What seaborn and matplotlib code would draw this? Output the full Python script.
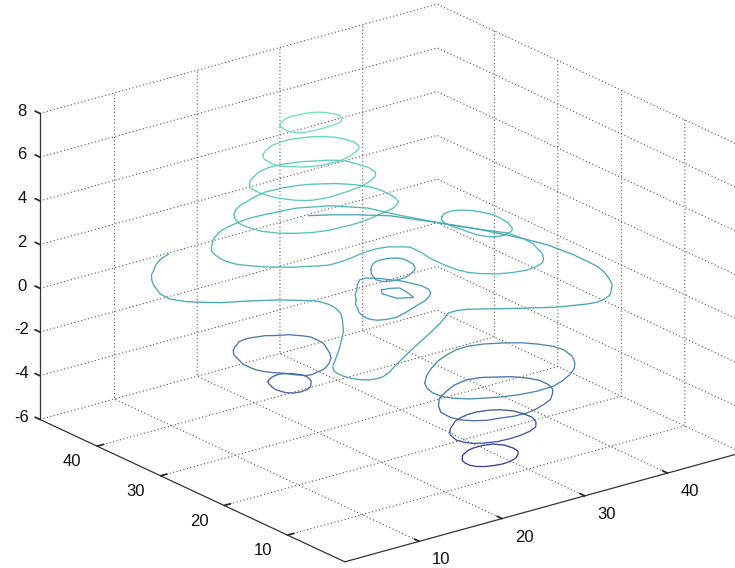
import matplotlib
matplotlib.use("Agg")
import matplotlib.pyplot as plt
import seaborn as sns
from mpl_toolkits.mplot3d import proj3d

# spirals above the centre, top to bottom
ring_a_x = [24.5, 25.2, 25.9, 26.9, 27.8, 28.7, 29.4, 30.0, 30.4, 30.6, 30.3, 29.8, 29.3, 28.4, 27.3, 26.2, 25.1, 24.5, 24.2, 24.1, 24.3]
ring_a_y = [41.9, 42.4, 42.8, 43.0, 42.9, 42.7, 42.4, 41.8, 41.1, 40.4, 39.7, 39.1, 38.8, 38.7, 38.6, 38.7, 38.8, 39.2, 39.8, 40.6, 41.5]
ring_b_x = [21.2, 21.9, 22.7, 23.6, 24.6, 25.7, 26.7, 27.8, 28.8, 29.5, 29.9, 30.2, 30.0, 29.5,
            28.7, 27.7, 26.7, 25.8, 25.0, 24.1, 23.2, 22.3, 21.6, 21.0, 20.6, 20.4, 20.5, 20.7]
ring_b_y = [40.2, 40.8, 41.3, 41.7, 41.9, 41.9, 41.6, 41.2, 40.5, 39.8, 38.9, 37.7, 36.6, 35.9,
            35.4, 34.9, 34.6, 34.4, 34.5, 34.5, 34.8, 35.2, 35.9, 36.4, 37.0, 37.8, 38.7, 39.5]
ring_c_x = [18.1, 18.9, 19.8, 20.7, 21.6, 22.5, 23.4, 24.1, 24.8, 25.9, 26.9, 27.9, 28.8, 29.4, 29.7, 30.0, 29.8,
            29.2, 28.3, 27.3, 26.3, 24.7, 23.2, 22.2, 21.2, 20.4, 19.7, 19.0, 18.4, 18.0, 17.8, 17.6, 17.6, 17.7]
ring_c_y = [38.3, 39.2, 39.8, 40.4, 40.7, 40.9, 40.8, 40.8, 40.5, 40.2, 39.6, 39.1, 38.4, 37.6, 36.5, 35.1, 33.7,
            32.9, 32.3, 31.8, 31.5, 31.2, 31.1, 31.0, 31.2, 31.4, 31.8, 32.5, 33.4, 34.1, 34.9, 35.9, 37.0, 37.7]
ring_d_x = [14.9, 15.7, 16.6, 17.3, 18.0, 19.1, 20.3, 21.1, 22.0, 23.3, 24.5, 25.7, 26.8, 27.7, 28.5, 29.2, 29.8, 30.1, 30.1, 30.0, 29.6,
            28.9, 28.1, 27.1, 26.1, 24.5, 22.9, 21.9, 20.9, 20.0, 19.1, 18.1, 17.2, 16.5, 15.9, 15.3, 14.8, 14.3, 14.1, 13.9, 13.9, 14.3]
ring_d_y = [36.6, 37.4, 38.0, 38.4, 38.6, 39.1, 39.4, 39.6, 39.5, 39.4, 39.1, 38.6, 37.9, 37.3, 36.5, 35.6, 34.6, 33.5, 32.2, 31.0, 29.8,
            29.2, 28.7, 28.4, 28.2, 27.8, 27.6, 27.6, 27.7, 27.7, 27.9, 28.2, 28.7, 29.1, 29.6, 30.1, 30.8, 31.5, 32.4, 33.4, 34.5, 35.6]
ring_e_x = [36.3, 35.0, 32.8, 30.9, 29.7, 27.3, 24.3, 20.7, 19.0, 17.3, 16.0, 14.7, 13.0, 11.6, 10.9, 10.5, 10.3,
            10.3, 10.6, 11.2, 12.3, 13.5, 14.5, 15.6, 16.6, 17.6, 18.9, 20.3, 22.0, 23.8, 25.0, 25.9, 26.6, 26.6,
            26.3, 26.3, 26.5, 26.9, 27.6, 28.9, 30.3, 31.7, 33.1, 34.2, 35.0, 35.7, 36.1, 36.5, 36.6, 36.5, 36.3]
ring_e_y = [21.4, 23.5, 27.4, 31.7, 34.9, 37.5, 39.0, 39.5, 39.6, 39.3, 39.0, 38.5, 37.3, 35.8, 34.9, 33.8, 32.7,
            31.7, 30.6, 29.7, 28.4, 27.4, 26.6, 26.0, 25.4, 25.0, 25.0, 25.2, 25.6, 25.7, 25.4, 24.7, 24.1, 22.4,
            20.6, 18.4, 16.6, 15.3, 14.4, 13.3, 12.7, 12.4, 12.6, 13.1, 14.0, 15.2, 16.5, 17.6, 18.7, 20.0, 21.4]
ring_p_x = [34.0, 34.5, 35.1, 35.8, 36.5, 37.3, 37.8, 38.2, 38.2, 38.0, 37.5, 37.0, 36.4, 35.5, 34.6, 34.1, 33.7, 33.5, 33.4, 33.2, 33.1, 33.4]
ring_p_y = [28.7, 29.1, 29.3, 29.3, 29.0, 28.2, 27.2, 26.1, 25.0, 23.5, 22.2, 21.6, 21.3, 21.1, 21.4, 22.0, 22.8, 23.9, 25.0, 26.0, 27.0, 28.0]

# long streamline crossing the whole box
long_x = [12.8, 12.0, 11.2, 10.1, 9.1, 8.1, 7.3, 6.6, 6.1, 5.7, 5.6, 5.6, 5.9, 6.4, 7.1, 8.8, 11.4, 13.8, 15.5, 16.2, 16.6, 16.8, 16.7, 16.2,
          15.3, 13.5, 10.5, 7.0, 6.4, 6.2, 6.2, 6.4, 6.9, 7.6, 8.4, 9.2, 10.4, 11.7, 15.3, 19.8, 22.2, 24.5, 25.5, 26.5, 30.4, 33.7, 36.5,
          37.6, 38.5, 39.6, 40.4, 41.6, 42.4, 43.0, 43.4, 43.5, 43.1, 42.2, 40.5, 38.5, 35.9, 33.5, 31.5, 29.7]
long_y = [44.1, 43.8, 43.4, 42.6, 41.6, 40.7, 39.6, 38.4, 37.2, 36.2, 35.3, 34.5, 33.9, 33.0, 32.3, 30.8, 29.4, 27.9, 26.4, 25.8, 25.0, 24.0, 22.9, 21.4,
          20.0, 17.5, 14.2, 10.7, 9.8, 9.1, 8.1, 7.2, 6.3, 5.7, 5.5, 5.6, 6.2, 7.1, 9.4, 12.1, 13.6, 15.3, 15.3, 15.0, 12.3, 10.2, 9.1,
          8.9, 9.1, 9.6, 10.4, 11.8, 13.4, 14.9, 16.5, 20.4, 24.0, 27.0, 31.1, 34.9, 39.3, 41.5, 43.0, 44.1]

# centre rings
ring_f_x = [27.8, 28.3, 28.9, 29.4, 29.9, 30.9, 31.7, 32.0, 32.0, 31.9, 31.5, 31.0, 30.3, 29.6, 28.9, 27.7, 26.8, 26.5, 26.8, 27.2]
ring_f_y = [31.8, 32.4, 32.9, 33.2, 33.3, 33.2, 32.7, 32.1, 31.4, 30.5, 29.7, 29.1, 28.7, 28.3, 28.1, 28.1, 28.5, 29.3, 30.1, 31.0]
ring_g_x = [21.8, 22.5, 23.4, 24.4, 25.3, 26.0, 26.4, 27.1, 27.6, 28.2, 28.6, 29.0, 29.0, 28.5, 27.7, 26.8, 25.7, 23.8, 22.0, 20.9, 20.0, 19.6, 19.6, 19.9, 20.5, 21.0]
ring_g_y = [26.3, 27.4, 28.3, 29.5, 30.3, 30.3, 30.0, 29.3, 28.5, 27.7, 26.7, 25.5, 24.3, 23.3, 22.6, 22.0, 21.6, 20.8, 20.2, 20.3, 20.7, 21.4, 22.3, 23.4, 24.4, 25.4]
ring_h_x = [25.3, 26.2, 27.0, 26.8, 26.5, 25.1, 24.7]
ring_h_y = [26.9, 26.7, 26.2, 24.6, 23.4, 24.2, 26.0]

# lower left spiral
ring_i_x = [12.7, 13.3, 13.9, 14.5, 15.2, 16.0, 16.7, 17.5, 18.2, 19.5, 20.4, 20.8, 20.8, 20.7, 20.2, 19.6,
            18.9, 17.8, 16.8, 16.1, 15.5, 14.8, 14.2, 13.4, 12.8, 12.1, 11.6, 11.3, 11.2, 11.2, 11.6, 12.0]
ring_i_y = [33.8, 34.4, 34.8, 35.3, 35.5, 35.5, 35.3, 35.1, 34.6, 33.9, 32.8, 32.1, 31.2, 30.0, 28.9, 27.6,
            26.5, 25.4, 24.7, 24.4, 24.3, 24.1, 24.2, 25.1, 26.1, 26.8, 27.6, 28.3, 29.2, 30.3, 31.5, 32.8]
ring_j_x = [13.8, 14.3, 14.8, 15.4, 16.0, 16.9, 17.4, 17.6, 17.5, 17.2, 16.7, 16.2, 15.6, 14.7, 13.9, 13.4, 13.2, 13.1, 13.3, 13.5]
ring_j_y = [29.8, 30.2, 30.5, 30.7, 30.7, 30.2, 29.4, 28.8, 28.2, 27.4, 26.8, 26.2, 25.9, 25.7, 25.9, 26.4, 27.1, 27.8, 28.5, 29.2]

# lower right spiral
ring_k_x = [18.4, 19.8, 21.4, 23.0, 24.7, 26.2, 27.6, 29.3, 30.9, 32.3, 33.3, 34.1, 34.4, 34.0,
            33.1, 32.1, 30.8, 29.2, 27.6, 25.6, 23.7, 22.1, 20.7, 19.2, 18.1, 17.5, 17.4, 17.7]
ring_k_y = [11.1, 12.6, 13.9, 15.0, 15.8, 16.3, 16.4, 15.9, 15.0, 14.0, 12.8, 11.5, 10.1, 8.2,
            6.6, 5.4, 4.4, 3.5, 2.9, 2.8, 3.1, 3.6, 4.3, 5.1, 6.2, 7.2, 8.5, 9.8]
ring_l_x = [21.0, 22.3, 24.0, 25.7, 27.5, 29.0, 30.2, 31.4, 32.3, 32.9, 32.9, 32.5, 31.7, 30.6, 29.2, 27.9, 26.6, 25.1, 23.8, 22.4, 21.3, 20.4, 20.1, 20.2]
ring_l_y = [12.3, 13.9, 15.0, 15.9, 16.3, 15.9, 15.1, 14.3, 13.2, 11.9, 10.5, 9.3, 8.3, 7.2, 6.5, 6.0, 5.7, 5.8, 6.2, 6.5, 7.2, 8.2, 9.3, 10.9]
ring_m_x = [21.2, 21.9, 22.7, 23.4, 24.3, 25.4, 26.5, 27.7, 28.7, 29.5, 29.8, 29.9, 29.4, 28.6, 27.4, 26.1, 24.7, 23.3, 22.0, 21.1, 20.6, 20.4, 20.6, 20.8]
ring_m_y = [10.8, 11.6, 12.2, 12.8, 13.2, 13.5, 13.5, 13.2, 12.6, 11.6, 10.4, 9.1, 7.9, 6.9, 6.3, 6.0, 5.9, 6.0, 6.5, 7.1, 7.9, 8.7, 9.5, 10.2]
ring_n_x = [21.5, 21.9, 22.5, 23.2, 24.0, 25.1, 26.1, 26.8, 27.0, 26.9, 26.4, 25.6, 24.6, 23.6, 22.6, 21.8, 21.2, 20.9, 20.9, 21.1]
ring_n_y = [9.2, 9.7, 10.1, 10.5, 10.7, 10.7, 10.4, 9.5, 8.4, 7.5, 6.8, 6.1, 5.7, 5.6, 5.8, 6.1, 6.6, 7.2, 8.0, 8.7]

closed_curves = [
    (ring_a_x, ring_a_y, 6.0),
    (ring_b_x, ring_b_y, 5.2),
    (ring_c_x, ring_c_y, 4.4),
    (ring_d_x, ring_d_y, 3.6),
    (ring_p_x, ring_p_y, 2.6),
    (ring_f_x, ring_f_y, 0.4),
    (ring_g_x, ring_g_y, 0.4),
    (ring_h_x, ring_h_y, 0.4),
    (ring_i_x, ring_i_y, -2.0),
    (ring_j_x, ring_j_y, -3.0),
    (ring_k_x, ring_k_y, -1.0),
    (ring_l_x, ring_l_y, -2.5),
    (ring_m_x, ring_m_y, -3.5),
    (ring_n_x, ring_n_y, -4.5),
]
open_curves = [
    (ring_e_x, ring_e_y, 2.6),
    (long_x, long_y, 1.0),
]

xy_ticks = [10, 20, 30, 40]
z_ticks = [-6, -4, -2, 0, 2, 4, 6, 8]

sns.set_theme(style="white")
plt.rcParams["font.family"] = ["Liberation Sans", "DejaVu Sans"]

cmap = sns.blend_palette(["#36368f", "#4a78aa", "#4aa0b6", "#50c0b8", "#70e0c0"], as_cmap=True)


def z_color(z):
    return cmap((z + 5) / 11)


fig = plt.figure(figsize=(7.35, 5.68), dpi=100)
ax = fig.add_subplot(projection="3d", proj_type="ortho")
ax.set_position([2 / 735, -104 / 568, 757.5 / 735, 757.5 / 568])
ax.patch.set_alpha(0)
ax.view_init(elev=21, azim=-127.5)
ax.set_box_aspect((1, 1, 0.6547))

for xs, ys, z in closed_curves:
    ax.plot(xs + xs[:1], ys + ys[:1], [z] * (len(xs) + 1), color=z_color(z), lw=0.95)
for xs, ys, z in open_curves:
    ax.plot(xs, ys, [z] * len(xs), color=z_color(z), lw=0.95)

ax.set_xlim(1, 49)
ax.set_ylim(1, 49)
ax.set_zlim(-6, 8)
ax.set_xticks(xy_ticks)
ax.set_yticks(xy_ticks)
ax.set_zticks(z_ticks)

# z ticks run along y like the matlab box, not along x
ax.zaxis._get_tickdir = lambda pos: 1

for axis in (ax.xaxis, ax.yaxis, ax.zaxis):
    axis.set_pane_color((1, 1, 1, 0))
    axis.pane.set_edgecolor((1, 1, 1, 0))
    axis.line.set_color("#333333")
    axis.line.set_linewidth(0.9)
    axis.label.set_visible(False)
    axis.offsetText.set_visible(False)
    axis._axinfo["grid"].update(color="#555555", linestyle=(0, (1, 2.2)), linewidth=0.8)
    axis._axinfo["tick"].update(color="#333333")
    axis._axinfo["tick"]["inward_factor"] = 0
    axis._axinfo["tick"]["outward_factor"] = 0.2
    axis.set_tick_params(label1On=False, label2On=False)


# tick labels as projected 2d text, the default offsets push them the wrong way
def tick_text(x, y, z, label):
    px, py, _ = proj3d.proj_transform(x, y, z, ax.get_proj())
    ax.text2D(px, py, label, transform=ax.transData, ha="center", va="center", fontsize=12, color="#111111")


for t in xy_ticks:
    tick_text(t, 1 - 3.46, -6.38, str(t))
    tick_text(1 - 3.02, t, -6.40, str(t))
for t in z_ticks:
    tick_text(1, 49 + 2.83, t - 0.28, str(t))

fig.savefig("out.png", dpi=100)
